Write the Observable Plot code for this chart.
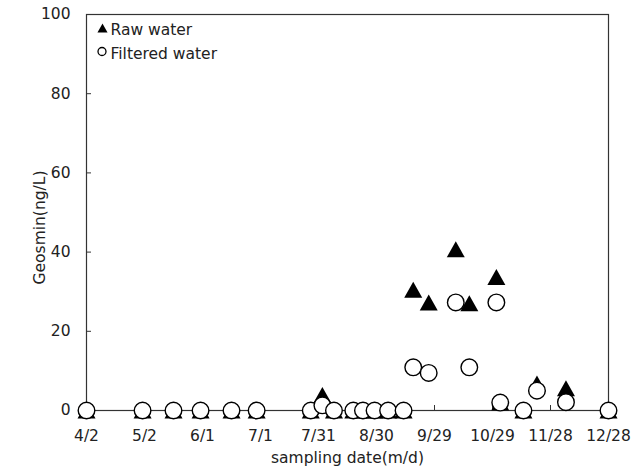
<!DOCTYPE html>
<html><head><meta charset="utf-8">
<script src="https://cdn.jsdelivr.net/npm/d3@7"></script>
<script src="https://cdn.jsdelivr.net/npm/@observablehq/plot@0.6"></script>
<style>html,body{margin:0;padding:0;background:#fff}</style>
</head><body><div id="chart"></div>
<script>
const year = 2008;
const sampleDates = ["4/2","5/1","5/17","5/31","6/16","6/29","7/27","8/2","8/8","8/18","8/23","8/29","9/5","9/13","9/18","9/26","10/10","10/17","10/31","11/2","11/14","11/21","12/6","12/28"];
const rawWater =      [0,0,0,0,0,0,0,3.9,0,0,0,0,0,0,30.5,27.3,40.7,27.1,33.7,2.0,0,6.8,5.6,0];
const filteredWater = [0,0,0,0,0,0,0,1.3,0,0,0,0,0,0,10.9,9.5,27.3,10.9,27.3,2.0,0,5.0,2.1,0];
const xTickLabels = ["4/2","5/2","6/1","7/1","7/31","8/30","9/29","10/29","11/28","12/28"];
const yTicks = [0,20,40,60,80,100];
const legendLabels = ["Raw water","Filtered water"];
const xTitle = "sampling date(m/d)";
const yTitle = "Geosmin(ng/L)";

const parse = s => { const [m,d] = s.split("/").map(Number); return new Date(Date.UTC(year, m-1, d)); };
const data = sampleDates.map((s,i)=>({date: parse(s), raw: rawWater[i], filtered: filteredWater[i]}));
const xTicks = xTickLabels.map(parse);
const fmt = d => `${d.getUTCMonth()+1}/${d.getUTCDate()}`;

const triangle = { draw(ctx, size) { const s = Math.sqrt(size/Math.PI); ctx.moveTo(0,-s); ctx.lineTo(1.125*s, s); ctx.lineTo(-1.125*s, s); ctx.closePath(); } };

const chart = Plot.plot({
  width: 636, height: 470,
  marginTop: 14, marginRight: 28, marginBottom: 60, marginLeft: 86,
  style: {fontFamily: "DejaVu Sans", fontSize: "15.5px", color: "#333", background: "#fff"},
  x: {type: "utc", domain: [xTicks[0], xTicks[xTicks.length-1]]},
  y: {domain: [0, 100]},
  marks: [
    Plot.frame({stroke: "#333", strokeWidth: 1.2}),
    Plot.tickX(xTicks, {x: d=>d, insetTop: 391, stroke: "#333"}),
    Plot.tickY(yTicks, {y: d=>d, insetRight: 517, stroke: "#333"}),
    Plot.axisX(xTicks, {tickSize: 0, tickPadding: 19, tickFormat: fmt, label: null, fill: "#222"}),
    Plot.axisY(yTicks, {tickSize: 0, tickPadding: 16, label: null, fill: "#222"}),
    Plot.dot(data, {x: "date", y: "raw", symbol: triangle, r: 8, fill: "#000", stroke: "none"}),
    Plot.dot(data, {x: "date", y: "filtered", r: 8.3, fill: "#fff", stroke: "#000", strokeWidth: 1.4}),
    Plot.dot([legendLabels[0]], {frameAnchor: "top-left", dx: 16, dy: 13.5, symbol: triangle, r: 4.5, fill: "#000"}),
    Plot.dot([legendLabels[1]], {frameAnchor: "top-left", dx: 15.5, dy: 37, r: 4, fill: "#fff", stroke: "#000", strokeWidth: 1.3}),
    Plot.text([legendLabels[0]], {frameAnchor: "top-left", dx: 24, dy: 16, textAnchor: "start", lineAnchor: "middle", fill: "#222"}),
    Plot.text([legendLabels[1]], {frameAnchor: "top-left", dx: 24, dy: 39.5, textAnchor: "start", lineAnchor: "middle", fill: "#222"}),
    Plot.text([xTitle], {frameAnchor: "bottom", dy: 48, lineAnchor: "middle", fill: "#222"}),
    Plot.text([yTitle], {frameAnchor: "left", dx: -46, dy: 15, rotate: -90, textAnchor: "middle", lineAnchor: "middle", fill: "#222"})
  ]
});
document.getElementById("chart").appendChild(chart);
</script>
</body></html>
